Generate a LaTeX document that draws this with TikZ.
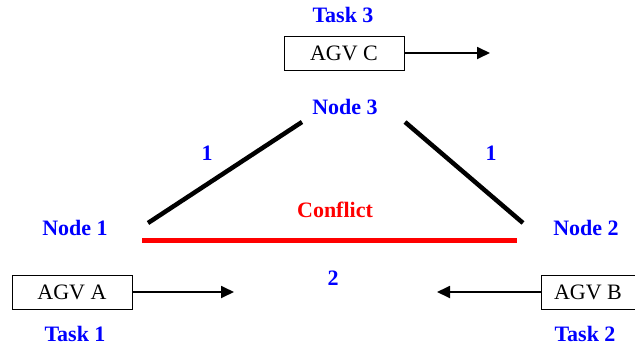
\documentclass[tikz,border=0pt]{standalone}
\usepackage{fontspec}
\setmainfont{Liberation Serif}
\usetikzlibrary{arrows.meta}
\definecolor{lblue}{RGB}{0,0,255}
\definecolor{lred}{RGB}{255,0,0}
\begin{document}
\begin{tikzpicture}[x=1pt,y=-1pt,
  lbl/.style={font=\fontsize{22}{24}\selectfont\bfseries, text=lblue, inner sep=0pt},
  agv/.style={draw, line width=1pt, minimum width=120pt, minimum height=34pt, inner sep=0pt, font=\fontsize{22}{24}\selectfont},
  move/.style={line width=1.8pt, -{Triangle[length=13pt,width=12pt]}},
  edge/.style={line width=4.5pt},
  conf/.style={line width=5pt, lred}]
\useasboundingbox (0,0) rectangle (635,348);
% labels
\node[lbl] (t3) at (343,15) {Task 3};
\node[lbl] (n3) at (345,107) {Node 3};
\node[lbl] (n1) at (75,228) {Node 1};
\node[lbl] (n2) at (586,228) {Node 2};
\node[lbl] (t1) at (75,334) {Task 1};
\node[lbl] (t2) at (585,334) {Task 2};
\node[lbl] (w1) at (207,153) {1};
\node[lbl] (w2) at (491,153) {1};
\node[lbl] (w3) at (333,278) {2};
\node[lbl, text=lred] (cf) at (335,210) {Conflict};
% AGVs
\node[agv] (c) at (344,53) {AGV C};
\node[agv] (a) at (72,292) {AGV A};
\node[agv, anchor=west] (bb) at (541,292) {};
\node[inner sep=0pt, font=\fontsize{22}{24}\selectfont] (b) at (588,292) {AGV B};
\coordinate (ce) at (490,53);
\coordinate (ae) at (234,292);
\coordinate (be) at (437,292);
\draw[move] (c.east) -- (ce);
\draw[move] (a.east) -- (ae);
\draw[move] (bb.west) -- (be);
% edges
\coordinate (l1) at (148,223);
\coordinate (l2) at (302,122);
\coordinate (r1) at (405,122);
\coordinate (r2) at (523,223);
\coordinate (k1) at (142,240);
\coordinate (k2) at (517,240);
\draw[edge] (l1) -- (l2);
\draw[edge] (r1) -- (r2);
\draw[conf] (k1) -- (k2);
\end{tikzpicture}
\end{document}
